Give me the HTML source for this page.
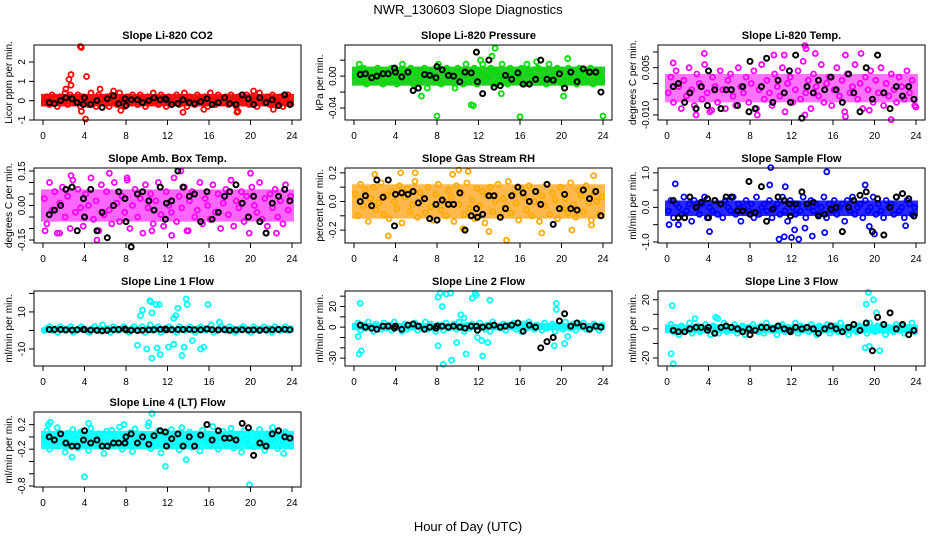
<!DOCTYPE html>
<html><head><meta charset="utf-8"><style>
html,body{margin:0;padding:0;background:#fff;}
svg{display:block;font-family:"Liberation Sans",sans-serif;}
</style></head><body>
<svg id="chart" width="936" height="540" viewBox="0 0 936 540" xmlns="http://www.w3.org/2000/svg">
<text x="468" y="14" font-size="13" text-anchor="middle">NWR_130603  Slope Diagnostics</text>
<text x="468" y="531" font-size="13" text-anchor="middle">Hour of Day (UTC)</text>
</svg>
<script>
// ---- data ----
const xTicks=[0,4,8,12,16,20,24];
const blackHours=[0.6,1.1,1.7,2.2,2.8,3.3,3.9,4.0,4.6,5.2,5.7,6.2,6.8,7.3,7.9,8.0,8.5,9.1,9.6,10.2,10.7,11.3,11.8,11.9,12.4,13.0,13.5,14.1,14.6,15.2,15.8,16.3,16.9,17.5,18.0,18.6,19.2,19.8,20.3,20.9,21.5,22.1,22.7,23.3,23.8];

const co2Core=[-0.3,0.35];
const co2Band=[-1,2,-2,3,1,-3,2,0,4,-2,3,1,-1,3,-3,2,1,-2,4,0,-3,3,1,-1,2,-3,3,0,-2,4,1,-3,2,-1,3,0,-2,3,1,-3,2,-1,4,0,-2,3,1,-3,2,0,-1,3,-2,1,4,-3,2,0,-2,3,1,-1,2,-3,4,0,-2,3,1,-1,2,-2,3,0,-3,2,1,-1,3,-2,2,0,-3,4,1,-1,2,-2,3,0,-1,2,-3,1,3,-1];
const co2Out=[[3.6,2.8],[3.7,2.75],[2.5,1.1],[2.7,1.35],[4.2,1.25],[2.7,0.8],[4.1,-0.95],[3.7,-0.55],[13.5,-0.6],[18.7,-0.6],[18.8,-0.55],[7.5,-0.5],[2.2,0.6],[5.5,0.6],[6.8,0.5],[20.3,0.5],[22.2,-0.45],[15.5,-0.45]];
const co2Black=[-0.1,-0.15,0,0.15,0.1,-0.1,-0.2,0.15,-0.2,0,-0.35,0.1,0.25,-0.15,0.1,-0.25,0.05,0.05,-0.1,0,0.15,0.05,0.1,0.05,-0.2,-0.15,0.05,-0.1,-0.15,-0.05,0.1,-0.2,-0.1,0.15,-0.15,-0.2,0.3,0.1,-0.2,0.15,-0.1,0.05,-0.25,0.3,-0.2];

const presCore=[-0.012,0.012];
const presBand=[0,1,-1,2,-2,1,0,-1,2,0,-2,1,-1,2,0,-2,1,3,-1,0,2,-2,1,-1,0,2,-3,1,0,-1,3,-2,1,2,-1,0,-3,2,1,-2,3,0,-1,2,-2,1,3,-1,0,2,-2,1,-1,3,0,-2,2,1,-1,0,2,-2,3,1,-1,0,2,-1,1,-2,3,0,-1,2,1,-2,0,2,-1,1,-2,2,0,-1,1,2,-2,0,1,-1];
const presOut=[[8,-0.05],[16,-0.051],[24,-0.05],[13.6,0.035],[11.3,-0.036],[11.5,-0.037],[6.5,-0.025],[0.5,0.015],[20.6,0.022],[13.3,0.025],[11.8,0.03],[12.2,0.02],[17.6,0.018],[20.2,-0.025],[14.2,-0.022]];
const presBlack=[0.002,0.003,-0.002,0.0,0.003,0.003,0.01,0.005,-0.001,0.005,-0.018,-0.015,0.002,0.001,-0.002,0.012,0.008,0.001,0.0,-0.007,0.005,0.004,0.03,-0.007,-0.022,0.02,-0.014,-0.012,0.001,-0.004,0.004,-0.01,-0.01,-0.004,0.02,-0.004,-0.005,0.003,-0.015,0.005,-0.007,0.009,0.005,0.005,-0.02];

const tempCore=[-0.006,0.003];
const tempBand=[-3,2,-6,4,-1,-8,1,-4,5,-2,-7,3,0,-5,6,-3,-9,2,-1,-6,4,-2,-8,1,3,-4,-7,5,-1,-3,2,-6,0,4,-8,-2,6,-5,1,-3,-7,3,-1,-4,5,-9,0,2,-6,-2,4,-5,7,-3,1,-8,3,-1,-4,6,-6,0,2,-7,-2,5,-4,1,-9,3,-3,-1,6,-5,0,-8,2,-2,4,-6,1,-3,5,-7,0,-4,3,-2,-6,2,-1,-5,4,-3,1,-7];
const tempOut=[[13.3,0.012],[13.4,0.011],[3.6,0.0095],[17.2,-0.0105],[21.6,-0.0115],[2.8,-0.01],[8.7,-0.01],[13.3,-0.01],[0.6,0.0065],[10.3,0.009],[11.3,0.009],[14.3,0.0095],[17.2,0.009],[18.7,0.0095],[24,-0.0075],[4.3,-0.0085],[19.5,-0.0085]];
const tempBlack=[-0.001,0.0,-0.006,-0.003,-0.008,-0.001,-0.007,0.004,-0.002,-0.008,-0.002,-0.002,-0.007,-0.001,-0.009,0.007,-0.008,-0.001,0.008,-0.006,0.001,-0.003,0.004,-0.006,0.009,-0.011,-0.001,-0.003,0.001,-0.002,0.002,-0.002,-0.006,0.003,-0.003,-0.009,0.005,-0.005,0.009,-0.003,-0.008,-0.001,-0.004,-0.001,-0.005];

const ambCore=[-0.07,0.07];
const ambBand=[3,-8,10,-2,6,-12,1,8,-5,4,-10,11,-3,7,-1,-9,5,0,12,-6,2,-11,9,-4,6,-2,-8,10,1,-7,4,-3,11,-10,0,7,-5,3,-12,9,-1,5,-8,2,10,-4,-9,6,0,-3,12,-7,4,-1,8,-11,2,6,-5,-2,10,-8,3,0,-6,9,-3,5,-10,1,7,-4,11,-9,2,-1,6,-7,4,-12,8,0,-3,10,-6,3,-9,5,-1,7,-5,2,-8,9,-2,4];
const ambOut=[[5.2,-0.15],[13.3,0.15],[20.0,0.14],[2.7,0.13],[6.4,0.14],[12.4,-0.13],[22.5,-0.12],[0.2,-0.11],[8.1,0.12],[1.6,-0.12],[10.5,-0.11],[14.0,-0.11]];
const ambBlack=[-0.04,-0.02,0.0,0.07,0.08,-0.11,0.03,-0.05,0.07,-0.11,-0.03,-0.14,0.0,0.06,0.03,-0.07,-0.18,0.05,0.06,0.02,-0.02,0.08,-0.06,0.01,0.02,0.15,0.08,0.04,0.05,-0.07,0.06,-0.06,-0.03,0.04,0.06,0.09,0.01,-0.05,0.04,-0.07,-0.12,0.01,0.04,0.07,0.02];

const rhCore=[-0.12,0.12];
const rhBand=[5,-10,12,-3,8,-14,2,10,-6,-1,13,-9,4,-12,7,0,-5,11,-15,3,9,-7,-2,14,-11,6,1,-8,10,-4,-13,5,12,-6,0,-10,8,3,-14,11,-2,6,-9,13,-5,1,-12,9,-3,7,-15,4,10,-7,0,12,-11,2,-4,14,-8,5,-1,-13,9,3,-6,11,-10,0,7,-14,4,-3,12,-9,6,1,-12,10,-5,2,-8,13,-2,-11,8,4,-7,11,-1,-13,6,0,-9,3];
const rhOut=[[14.7,-0.27],[3.3,-0.24],[10.1,0.22],[11.0,0.21],[18.1,-0.22],[13.0,-0.21],[21.0,-0.2],[22.9,-0.165],[2.0,0.19],[4.5,0.2],[5.9,0.2],[23.1,0.18],[9.5,0.19],[10.5,-0.19]];
const rhBlack=[0.0,0.04,-0.03,0.15,0.03,0.15,-0.17,0.05,0.06,0.05,0.07,-0.01,0.02,-0.12,-0.02,-0.13,0.01,-0.02,-0.02,0.06,-0.2,-0.1,-0.05,-0.11,-0.09,0.04,0.04,-0.11,-0.05,0.04,0.1,0.06,0.0,0.07,-0.02,0.12,-0.16,-0.05,0.05,-0.05,-0.06,0.08,0.02,0.07,-0.1];

const flowCore=[-0.25,0.2];
const flowBand=[-1,2,-3,1,0,-2,3,-1,1,-4,2,0,-2,1,3,-3,0,-1,2,-2,1,-3,2,0,-1,3,-2,1,-4,0,2,-1,1,-3,3,-2,0,1,-1,2,-3,0,1,-2,3,-1,-4,2,0,-2,1,-1,3,-3,0,2,-1,1,-2,0,3,-3,1,-1,2,-2,0,1,-4,2,-1,3,-2,0,1,-3,2,-1,0,3,-2,1,-1,-3,2,0,1,-2,3,-1,0,-3,2,1,-2,0];
const flowOut=[[10.0,1.15],[15.4,1.03],[0.8,0.68],[19.1,0.65],[9.9,0.65],[11.4,0.6],[0.2,-0.5],[1.1,-0.5],[4.1,-0.7],[10.8,-0.92],[11.3,-0.85],[12.7,-0.92],[12.0,-0.87],[14.0,-0.83],[15.2,-0.73],[19.5,-0.55],[20.0,-0.77],[23.0,-0.53],[12.3,-0.65],[13.3,-0.6]];
const flowBlack=[0.2,-0.3,-0.3,0.3,0.0,0.15,0.25,-0.3,0.2,0.1,0.3,0.3,-0.1,-0.1,0.75,-0.2,-0.15,0.6,-0.4,-0.05,0.3,0.2,0.1,-0.25,0.1,0.45,0.1,0.15,-0.25,-0.2,-0.05,0.0,-0.7,0.0,0.2,0.35,0.45,-0.7,0.25,-0.8,0.0,0.3,0.4,0.25,-0.25];

const l1Core=[-1,1.5];
const l1Band=[0,1,2,0,1,-1,2,1,0,1,2,-1,0,1,2,1,0,-1,1,2,0,1,3,0,1,-1,2,1,0,1,2,0,-1,1,2,1,0,2,-1,1,3,0,1,2,-1,0,1,2,1,0,-1,2,1,0,1,2,0,-1,1,2,1,0,1,3,-1,0,1,2,1,0,2,1,-1,0,1,2,1,0,-1,2,1,0,1,2,0,1,-1,2,1,0,1,2,0,1];
const l1Out=[[10.3,16],[10.4,15.5],[10.9,14],[11.2,14],[13.8,17],[13.9,14],[15.9,14],[13,12],[9.6,11],[9.4,8],[10.5,9.5],[12.8,8],[12.6,6.5],[10.5,-15],[11.3,-13],[13.4,-13.5],[9.1,-8],[10,-10],[11,-9.5],[12.1,-9],[12.6,-7.5],[13.6,-9],[15.2,-10],[15.5,-9],[14.4,-5.5],[17.0,4.5]];
const l1Black=[0.5,0.5,0.5,0.3,0.2,0.4,0.5,0.4,0.2,0.1,-0.2,0.1,0.4,0.5,0.8,0.3,0.1,0,0.2,0.3,0.4,0.6,0.8,0.3,0.4,0.5,0.5,0.6,0.4,0.3,0.8,0.4,0.3,0.4,0.1,0.3,0.4,0.2,0.3,0.1,0.3,0.4,0.5,0.6,0.4];

const l2Core=[-3,4];
const l2Band=[1,4,-3,2,-1,5,0,-4,3,1,-2,4,-1,2,-3,5,0,1,-4,3,-2,2,0,4,-3,1,-1,5,-2,3,0,-4,2,1,-3,4,-1,0,3,-2,5,1,-4,2,-1,3,0,-3,4,1,-2,2,-4,5,0,1,-1,3,-3,2,0,4,-2,1,-4,3,-1,5,0,-2,2,1,-3,4,-1,0,3,-4,2,1,-2,5,0,-1,3,-3,2,0,4,-2,1,-1,3,0,-3,2];
const l2Out=[[0.6,23],[0.4,-9],[0.5,-26],[0.7,-23],[8.3,33],[8.9,32],[8.1,29],[9.3,33],[8.5,20],[10.8,-26],[8.1,-18],[8.6,-36],[9.4,-32],[9.9,-15],[11.4,28],[11.7,33],[11.8,31],[13.1,26],[12.3,-13],[11.9,-10],[12.9,-15],[12.4,-28],[19.5,23],[19.5,17],[19.3,-18],[20.3,-16],[20.3,13],[20.6,-9],[10.3,12],[10.6,9]];
const l2Black=[2,0,-1,-2,1,1,-1,1,-2,2,3,1,-2,0,-1,1,1,0,1,0,-1,1,1,-3,0,1,2,0,1,2,4,-4,2,0,-20,-14,-10,6,13,1,4,1,-2,1,0];

const l3Core=[-3,3];
const l3Band=[0,3,-2,1,-4,2,0,-1,4,-3,1,2,-2,0,3,-1,-4,2,1,-3,0,4,-2,1,-1,3,-3,0,2,-4,1,-1,3,0,-2,2,-3,4,1,-1,0,-4,2,3,-2,1,-1,0,4,-3,2,-1,1,-2,3,0,-4,2,-1,1,3,-3,0,2,-2,4,-1,1,-4,0,3,-2,2,-1,1,-3,4,0,-2,2,-1,3,-4,1,0,-2,3,-1,2,-3,1,0,4,-2];
const l3Out=[[0.5,16],[0.4,-17],[0.6,-24],[19.4,25],[19.2,17],[19.9,20],[20.2,11],[19.1,-13],[19.5,-12],[20.5,-15],[2.7,7],[4.7,8],[4.9,7]];
const l3Black=[-1,-2,-2,0,1,1,-1,1,-3,1,2,1,0,-2,0,-4,-1,1,1,0,2,0,-1,-2,1,0,1,0,-3,0,2,0,-2,1,3,-1,4,-15,8,3,11,0,3,-4,-1];

const l4Core=[-0.2,0.1];
const l4Band=[-5,10,-20,3,-12,15,-8,0,-25,6,-15,12,-3,-18,8,-10,2,-22,14,-6,-13,5,-1,-27,9,-16,11,-4,-9,16,-20,1,-11,7,-24,13,-2,-14,4,-7,18,-19,0,-10,10,-26,6,-3,-15,12,-8,2,-21,15,-5,-12,8,-17,3,-1,-23,11,-9,5,-14,17,-6,-20,0,9,-11,-2,14,-18,4,-8,-25,10,-3,-13,7,-16,1,12,-10,-22,5,-4,15,-7,-19,3,-12,8,-1,-15];
const l4Out=[[4.0,-0.65],[19.9,-0.78],[10.5,0.38],[11.8,-0.48],[13.8,-0.37],[2.8,-0.33],[0.5,0.2],[0.7,0.24],[4.4,0.22],[10.2,0.23],[23.2,-0.27],[7.8,0.2]];
const l4Black=[0.0,-0.05,0.05,-0.1,-0.15,-0.15,-0.05,0.1,-0.1,-0.05,-0.15,-0.15,-0.1,-0.1,-0.1,0.0,0.05,-0.1,0.0,-0.12,0.02,0.1,0.08,-0.15,-0.03,0.05,-0.15,0.0,-0.15,0.03,0.2,-0.05,0.1,-0.02,-0.02,-0.05,0.22,0.15,-0.3,-0.1,-0.15,0.05,0.1,0.0,-0.02];

// y tick values & labels
const co2Ticks=[-1,0,1,2], co2Labels=["-1","0","1","2"];
const presTicks=[-0.04,-0.02,0,0.02], presLabels=["-0.04","","0.00",""];
const tempTicks=[-0.01,-0.005,0,0.005,0.01], tempLabels=["-0.010","","","0.005",""];
const ambTicks=[-0.15,-0.1,-0.05,0,0.05,0.1,0.15], ambLabels=["-0.15","","","0.00","","","0.15"];
const rhTicks=[-0.2,-0.1,0,0.1,0.2], rhLabels=["-0.2","","0.0","","0.2"];
const flowTicks=[-1,-0.5,0,0.5,1], flowLabels=["-1.0","","0.0","","1.0"];
const l1Ticks=[-10,0,10,20], l1Labels=["-10","","10",""];
const l2Ticks=[-30,-20,-10,0,10,20,30], l2Labels=["-30","","","0","","20",""];
const l3Ticks=[-20,-10,0,10,20], l3Labels=["-20","","0","","20"];
const l4Ticks=[-0.8,-0.6,-0.4,-0.2,0,0.2], l4Labels=["-0.8","","","-0.2","","0.2"];

// ---- layout / style ----
const colX=[34,345,658], rowY=[45,168,291,412], W=267, H=75;
const panels=[
 {id:"co2",t:"Slope Li-820 CO2",yl:"Licor ppm per min.",c:"#ff0000",fc:"#ff0000",op:0.9,r:0,k:0,y0:-1.0,y1:2.88,u:0.1,core:co2Core,band:co2Band,out:co2Out,blk:co2Black,ticks:co2Ticks,labs:co2Labels},
 {id:"pressure",t:"Slope Li-820 Pressure",yl:"kPa per min.",c:"#00dd00",fc:"#11c811",op:0.9,r:0,k:1,y0:-0.055,y1:0.039,u:0.005,core:presCore,band:presBand,out:presOut,blk:presBlack,ticks:presTicks,labs:presLabels},
 {id:"temp",t:"Slope Li-820 Temp.",yl:"degrees C per min.",c:"#ff00ff",fc:"#ff00ff",op:0.55,r:0,k:2,y0:-0.0116,y1:0.0122,u:0.001,core:tempCore,band:tempBand,out:tempOut,blk:tempBlack,ticks:tempTicks,labs:tempLabels},
 {id:"amb-box-temp",t:"Slope Amb. Box Temp.",yl:"degrees C per min.",c:"#ff00ff",fc:"#ff00ff",op:0.6,r:1,k:0,y0:-0.163,y1:0.163,u:0.01,core:ambCore,band:ambBand,out:ambOut,blk:ambBlack,ticks:ambTicks,labs:ambLabels},
 {id:"gas-rh",t:"Slope Gas Stream RH",yl:"percent per min.",c:"#ffaa00",fc:"#ff9a00",op:0.7,r:1,k:1,y0:-0.29,y1:0.234,u:0.01,core:rhCore,band:rhBand,out:rhOut,blk:rhBlack,ticks:rhTicks,labs:rhLabels},
 {id:"sample-flow",t:"Slope Sample Flow",yl:"ml/min per min.",c:"#0000ff",fc:"#0000ff",op:0.85,r:1,k:2,y0:-1.03,y1:1.14,u:0.1,core:flowCore,band:flowBand,out:flowOut,blk:flowBlack,ticks:flowTicks,labs:flowLabels},
 {id:"line1",t:"Slope Line 1 Flow",yl:"ml/min per min.",c:"#00ffff",fc:"#00ffff",op:0.9,r:2,k:0,y0:-19.2,y1:21.3,u:1,core:l1Core,band:l1Band,out:l1Out,blk:l1Black,ticks:l1Ticks,labs:l1Labels},
 {id:"line2",t:"Slope Line 2 Flow",yl:"ml/min per min.",c:"#00ffff",fc:"#00ffff",op:0.9,r:2,k:1,y0:-37.6,y1:35,u:1,core:l2Core,band:l2Band,out:l2Out,blk:l2Black,ticks:l2Ticks,labs:l2Labels},
 {id:"line3",t:"Slope Line 3 Flow",yl:"ml/min per min.",c:"#00ffff",fc:"#00ffff",op:0.9,r:2,k:2,y0:-25.5,y1:26,u:1,core:l3Core,band:l3Band,out:l3Out,blk:l3Black,ticks:l3Ticks,labs:l3Labels},
 {id:"line4",t:"Slope Line 4 (LT) Flow",yl:"ml/min per min.",c:"#00ffff",fc:"#00ffff",op:0.9,r:3,k:0,y0:-0.816,y1:0.406,u:0.01,core:l4Core,band:l4Band,out:l4Out,blk:l4Black,ticks:l4Ticks,labs:l4Labels}
];
const NS="http://www.w3.org/2000/svg", svg=document.getElementById('chart');
function mk(tag,attrs,parent,txt){const e=document.createElementNS(NS,tag);for(const k in attrs)e.setAttribute(k,attrs[k]);if(txt!==undefined)e.textContent=txt;parent.appendChild(e);return e;}

panels.forEach(p=>{
  const L=colX[p.k], T=rowY[p.r], B=T+H, R=L+W;
  const xs=h=>L+9+h*(W-18)/24;
  const ys=v=>B-(v-p.y0)/(p.y1-p.y0)*H;
  const g=mk('g',{},svg);
  
  
  const ti=mk('text',{x:(L+R)/2,y:T-6,'font-size':11,'font-weight':'bold','text-anchor':'middle'},g,p.t);
  
  
  const yl=mk('text',{x:0,y:0,'font-size':10,'text-anchor':'middle',transform:`translate(${L-22},${(T+B)/2}) rotate(-90)`},g,p.yl);
  
  
  const core=mk('rect',{x:xs(0)-2,y:ys(p.core[1]),width:xs(24)-xs(0)+4,height:ys(p.core[0])-ys(p.core[1]),fill:p.fc,'fill-opacity':p.op},g);
  
  
  const pts=mk('g',{fill:'none','stroke-width':1.8},g);
  
  
  const n=p.band.length;
  p.band.forEach((v,i)=>{
    const c=mk('circle',{cx:xs((i+0.5)*24/n),cy:ys(v*p.u),r:2.5,stroke:p.c},pts);
    
    
  });
  p.out.forEach(o=>{
    const c=mk('circle',{cx:xs(o[0]),cy:ys(o[1]),r:2.5,stroke:p.c},pts);
    
    
  });
  p.blk.forEach((v,i)=>{
    const c=mk('circle',{cx:xs(blackHours[i]),cy:ys(v),r:2.5,stroke:'#000','stroke-width':2},pts);
    
    
  });
  const box=mk('rect',{x:L,y:T,width:W,height:H,fill:'none',stroke:'#000','stroke-width':1},g);
  
  
  const xa=mk('g',{},g);
  
  
  mk('line',{x1:xs(0),x2:xs(24),y1:B,y2:B,stroke:'#000'},xa);
  xTicks.forEach(t=>{
    mk('line',{x1:xs(t),x2:xs(t),y1:B,y2:B+5,stroke:'#000'},xa);
    const tl=mk('text',{x:xs(t),y:B+19,'font-size':10,'text-anchor':'middle'},xa,String(t));
    
    
  });
  const ya=mk('g',{},g);
  
  
  mk('line',{x1:L,x2:L,y1:ys(p.ticks[0]),y2:ys(p.ticks[p.ticks.length-1]),stroke:'#000'},ya);
  p.ticks.forEach((t,i)=>{
    mk('line',{x1:L-5,x2:L,y1:ys(t),y2:ys(t),stroke:'#000'},ya);
    if(p.labs[i]){
      const tl=mk('text',{x:0,y:0,'font-size':10,'text-anchor':'middle',transform:`translate(${L-9},${ys(t)}) rotate(-90)`},ya,p.labs[i]);
      
      
    }
  });
});
</script>
</body></html>
